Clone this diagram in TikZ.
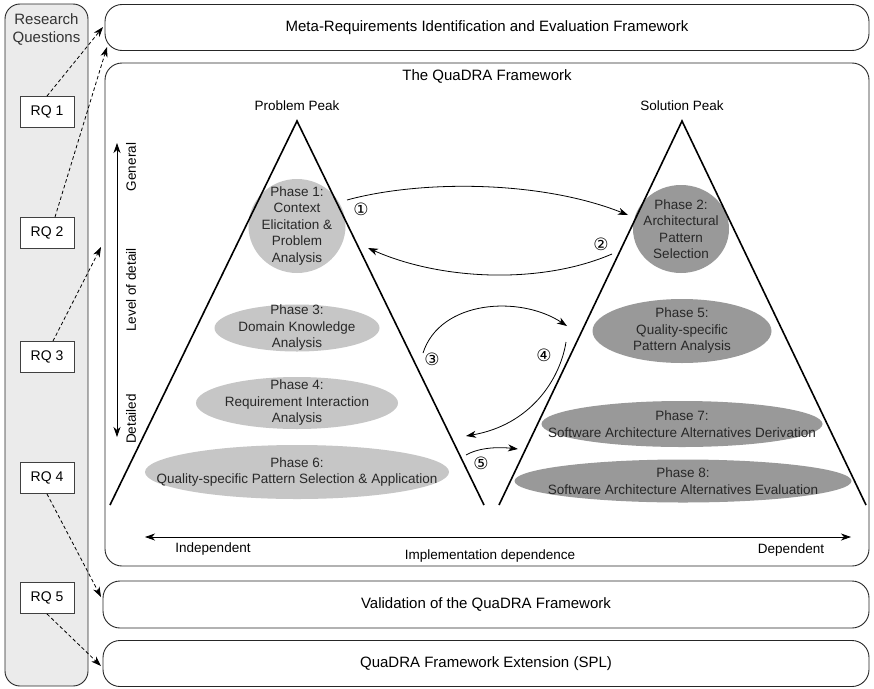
\documentclass[tikz,border=0pt]{standalone}
\usepackage{fontspec}
\setmainfont{Liberation Sans}
\newfontfamily\circfont{DejaVu Sans}
\usetikzlibrary{arrows.meta,shapes.geometric,calc}

\definecolor{colcol}{RGB}{235,235,235}
\definecolor{lightph}{RGB}{198,198,198}
\definecolor{darkph}{RGB}{153,153,153}
\definecolor{phtext}{RGB}{40,40,40}

\begin{document}
\begin{tikzpicture}[x=1pt,y=-1pt,
  frame/.style={draw=black!85, line width=0.9pt, rounded corners=17pt, fill=white,
                font=\fontsize{15}{17}\selectfont},
  rqbox/.style={draw=black!75, line width=0.9pt, fill=white, minimum width=54pt,
                minimum height=31pt, font=\fontsize{14}{16}\selectfont},
  peak/.style={draw=black, line width=1.6pt, line join=miter},
  ph/.style={ellipse, inner sep=0pt, draw=none},
  phL/.style={ph, fill=lightph},
  phD/.style={ph, fill=darkph},
  phlabel/.style={align=center, text=phtext, font=\fontsize{13.5}{16.5}\selectfont},
  lbl/.style={font=\fontsize{13.5}{16}\selectfont},
  tip/.tip={Stealth[length=10pt,width=7pt,inset=3pt]},
  flow/.style={-tip, line width=0.8pt},
  axis/.style={tip-tip, line width=0.8pt},
  rqlink/.style={dash pattern=on 3.5pt off 2.5pt, -tip, line width=0.8pt},
  num/.style={font=\circfont\fontsize{17}{17}\selectfont, inner sep=0pt}
]
\useasboundingbox (0,0) rectangle (874,688);

% Research question column
\node[draw=black!85, line width=0.9pt, rounded corners=15pt, fill=colcol,
      minimum width=83pt, minimum height=682pt] (rqcol) at (46.5,345) {};
\node[align=center, text=black!80, font=\fontsize{15}{18}\selectfont] (rqtitle) at (46.5,29) {Research\\Questions};

\node[rqbox] (rq1) at (47,112) {RQ 1};
\node[rqbox] (rq2) at (47,233) {RQ 2};
\node[rqbox] (rq3) at (47,357) {RQ 3};
\node[rqbox] (rq4) at (47,478) {RQ 4};
\node[rqbox] (rq5) at (47,598) {RQ 5};

% Frames on the right
\node[frame, minimum width=764pt, minimum height=46pt] (meta) at (487,27.5)
  {Meta-Requirements Identification and Evaluation Framework};
\node[frame, minimum width=764pt, minimum height=503pt] (quadra) at (487,314.5) {};
\node[font=\fontsize{15}{17}\selectfont] (qtitle) at (487,76) {The QuaDRA Framework};
\node[frame, minimum width=766pt, minimum height=47pt] (valid) at (486,604.5)
  {Validation of the QuaDRA Framework};
\node[frame, minimum width=766pt, minimum height=46pt] (ext) at (486,663.5)
  {QuaDRA Framework Extension (SPL)};

% Level of detail axis
\coordinate (lodtop) at (117,143);
\coordinate (lodbot) at (117,437);
\draw[axis] (lodtop) -- (lodbot);
\node[lbl, rotate=90] (gen) at (131,167) {General};
\node[lbl, rotate=90] (lod) at (131,290) {Level of detail};
\node[lbl, rotate=90] (det) at (131,419) {Detailed};

% Implementation dependence axis
\coordinate (impl) at (145,537);
\coordinate (impr) at (851,537);
\draw[axis] (impl) -- (impr);
\node[lbl] (indep) at (213,549) {Independent};
\node[lbl] (impdep) at (490,556) {Implementation dependence};
\node[lbl] (dep) at (791,550) {Dependent};

% The two peaks
\node[lbl] (ppeak) at (297,106) {Problem Peak};
\node[lbl] (speak) at (682,106) {Solution Peak};

\node[phL, minimum width=97pt, minimum height=94pt,
      label={[phlabel]center:Phase 1:\\Context\\Elicitation \&\\Problem\\Analysis}] (p1) at (297,226) {};
\node[phL, minimum width=165pt, minimum height=47pt,
      label={[phlabel]center:Phase 3:\\Domain Knowledge\\Analysis}] (p3) at (297,328) {};
\node[phL, minimum width=202pt, minimum height=52pt,
      label={[phlabel]center:Phase 4:\\Requirement Interaction\\Analysis}] (p4) at (297,403) {};
\node[phL, minimum width=304pt, minimum height=54pt,
      label={[phlabel]center:Phase 6:\\Quality-specific Pattern Selection \& Application}] (p6) at (297,472) {};

\node[phD, minimum width=96pt, minimum height=88pt,
      label={[phlabel]center:Phase 2:\\Architectural\\Pattern\\Selection}] (p2) at (681,229) {};
\node[phD, minimum width=179pt, minimum height=64pt,
      label={[phlabel]center:Phase 5:\\Quality-specific\\Pattern Analysis}] (p5) at (682,331) {};
\node[phD, minimum width=281pt, minimum height=46pt,
      label={[phlabel]center:Phase 7:\\Software Architecture Alternatives Derivation}] (p7) at (682,424) {};
\node[phD, minimum width=337pt, minimum height=43pt,
      label={[phlabel]center:Phase 8:\\Software Architecture Alternatives Evaluation}] (p8) at (683,481) {};

\coordinate (ltop) at (297,121);
\coordinate (lbl) at (110,505);
\coordinate (lbr) at (484,505);
\coordinate (rtop) at (682,121);
\coordinate (rbl) at (499,505);
\coordinate (rbr) at (866,505);
\draw[peak] (lbl) -- (ltop) -- (lbr);
\draw[peak] (rbl) -- (rtop) -- (rbr);

% Transitions between the peaks
\coordinate (a1s) at (347,200);  \coordinate (a1e) at (628,215);
\coordinate (a2s) at (612,254);  \coordinate (a2e) at (368,248);
\coordinate (a3s) at (423,353);  \coordinate (a3e) at (567,326);
\coordinate (a4s) at (566,342);  \coordinate (a4e) at (466,436);
\coordinate (a5s) at (466,455);  \coordinate (a5e) at (518,449);
\draw[flow] (a1s) .. controls (420,180) and (540,180) .. (a1e);
\draw[flow] (a2s) .. controls (540,285) and (440,280) .. (a2e);
\draw[flow] (a3s) .. controls (440,300) and (520,295) .. (a3e);
\draw[flow] (a4s) .. controls (560,380) and (530,425) .. (a4e);
\draw[flow] (a5s) .. controls (480,447) and (500,447) .. (a5e);

\node[num] (n1) at (361,209) {①};
\node[num] (n2) at (601,244) {②};
\node[num] (n3) at (432,359) {③};
\node[num] (n4) at (544,355) {④};
\node[num] (n5) at (481,463) {⑤};

% Research questions mapped to the work packages
\coordinate (m1) at (103,27);
\coordinate (m2) at (107,47);
\coordinate (m3) at (101,247);
\coordinate (m4) at (101,597);
\coordinate (m5) at (101,666);
\draw[rqlink] (rq1.north) -- (m1);
\draw[rqlink] ([xshift=8pt]rq2.north) -- (m2);
\draw[rqlink] ([xshift=6pt]rq3.north) -- (m3);
\draw[rqlink] (rq4.south) -- (m4);
\draw[rqlink] (rq5.south) -- (m5);
\end{tikzpicture}
\end{document}
